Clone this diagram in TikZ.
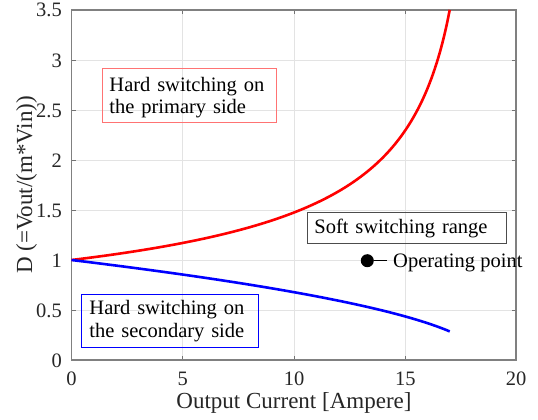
\documentclass[tikz,border=0pt]{standalone}
\usepackage{fontspec}
\setmainfont{Liberation Serif}
\begin{document}
\begin{tikzpicture}[x=1pt,y=-1pt,
  ticklab/.style={font=\fontsize{20.5}{24}\selectfont, text=black!85, inner sep=0},
  axlab/.style={font=\fontsize{23}{27}\selectfont, text=black!85, inner sep=0},
  gridline/.style={draw=black!11, line width=0.8},
  tickmark/.style={draw=black!55, line width=0.9},
  axbox/.style={draw=black!50, line width=1.2},
  annbox/.style={line width=0.9, font=\fontsize{20.5}{22.3}\selectfont, align=left, inner ysep=0, anchor=north west},
  curve/.style={line width=2.6, line join=round},
]
\useasboundingbox (0,0) rectangle (538,420);
% grid
\foreach \gx in {182.75,294,405.25} \draw[gridline] (\gx,10) -- (\gx,360);
\foreach \gy in {60,110,160,210,260,310} \draw[gridline] (71.5,\gy) -- (516,\gy);
% ticks
\foreach \gx in {182.75,294,405.25} {
  \draw[tickmark] (\gx,360) -- (\gx,355.5);
  \draw[tickmark] (\gx,10) -- (\gx,14.5);
}
\foreach \gy in {60,110,160,210,260,310} {
  \draw[tickmark] (71.5,\gy) -- (76,\gy);
  \draw[tickmark] (516,\gy) -- (511.5,\gy);
}
% axes box
\draw[axbox] (71.5,10) rectangle (516,360);
% tick labels
\foreach \v/\gy in {0/360,0.5/310,1/260,1.5/210,2/160,2.5/110,3/60,3.5/10}
  \node[ticklab, anchor=base east] (yl\v) at (62,\gy+7) {\v};
\foreach \v/\gx in {0/71.5,5/182.75,10/294,15/405.25,20/516}
  \node[ticklab, anchor=base] (xl\v) at (\gx,385) {\v};
% axis labels
\node[axlab, anchor=base] (xlabel) at (294,408) {Output Current [Ampere]};
\node[axlab, anchor=base, rotate=90] (ylabel) at (32,185) {D (=Vout/(m*Vin))};
% curves
\draw[curve, red] plot[domain=0:17, samples=120, smooth] ({71.5+22.25*\x},{360-100/sqrt(1-\x/18.51)});
\draw[curve, blue] plot[domain=0:17, samples=120, smooth] ({71.5+22.25*\x},{360-100*sqrt(1-\x/18.51)});
% annotation boxes
\node[annbox, draw=red!55, inner xsep=6.7, text width=160.6, text height=22.7, text depth=31.3] (hardpri) at (102.3,68.3)
  {Hard switching on\\the primary side};
\node[annbox, draw=blue, inner xsep=8.3, text width=160.4, text height=20.3, text depth=32.4] (hardsec) at (80.7,294)
  {Hard switching on\\the secondary side};
\node[annbox, draw=black!70, inner xsep=7.3, text width=184.4, text height=21, text depth=9.4] (soft) at (306.7,212.3)
  {Soft switching range};
% operating point
\node[circle, fill=black, inner sep=0, minimum size=13] (opdot) at (367.3,260.7) {};
\node[font=\fontsize{20.5}{24}\selectfont, anchor=base west, inner xsep=6, inner ysep=0] (optext) at (387,267) {Operating point};
\draw[line width=0.7] (opdot) -- (opdot -| optext.west);
\end{tikzpicture}
\end{document}
